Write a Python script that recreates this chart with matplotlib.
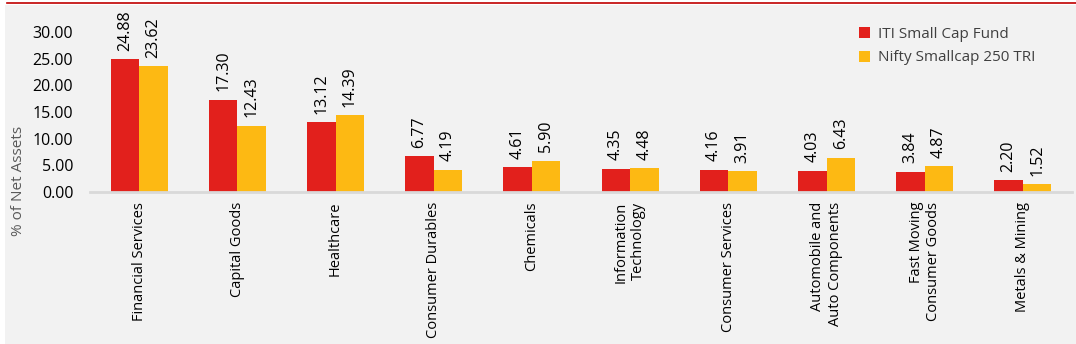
import matplotlib.pyplot as plt
import numpy as np

# Sector allocation data
categories = ['Financial Services', 'Capital Goods', 'Healthcare', 'Consumer Durables',
              'Chemicals', 'Information\nTechnology', 'Consumer Services',
              'Automobile and\nAuto Components', 'Fast Moving\nConsumer Goods',
              'Metals & Mining']
fund = [24.88, 17.30, 13.12, 6.77, 4.61, 4.35, 4.16, 4.03, 3.84, 2.20]
index_tri = [23.62, 12.43, 14.39, 4.19, 5.90, 4.48, 3.91, 6.43, 4.87, 1.52]
series_names = ['ITI Small Cap Fund', 'Nifty Smallcap 250 TRI']
yticks = [0, 5, 10, 15, 20, 25, 30]

red = '#e2201c'
yellow = '#fdb913'
bg = '#f2f2f2'

plt.rcParams['font.family'] = ['Open Sans', 'DejaVu Sans']

fig = plt.figure(figsize=(10.76, 3.44), dpi=100)
fig.patch.set_facecolor('white')

# grey panel + red rule on top
fig.add_artist(plt.Rectangle((5 / 1076, 0), 1, 1 - 5 / 344, transform=fig.transFigure,
                             facecolor=bg, edgecolor='none', zorder=0))
fig.add_artist(plt.Line2D([7 / 1076, 1], [1 - 3 / 344] * 2, transform=fig.transFigure,
                          color='#c00000', lw=1.2))

ax = fig.add_axes([90 / 1076, 1 - 192 / 344, 982 / 1076, 160 / 344])
ax.set_facecolor('none')

x = np.arange(len(categories))
w = 0.29
b1 = ax.bar(x - w / 2, fund, w, color=red, label=series_names[0], zorder=2)
b2 = ax.bar(x + w / 2, index_tri, w, color=yellow, label=series_names[1], zorder=2)

for bars, vals in [(b1, fund), (b2, index_tri)]:
    for b, v in zip(bars, vals):
        ax.annotate(f'{v:.2f}', (b.get_x() + b.get_width() / 2, v),
                    xytext=(0, 6), textcoords='offset points', rotation=90,
                    ha='center', va='bottom', fontsize=11.5, color='black',
                    annotation_clip=False)

ax.set_xlim(-0.5, len(categories) - 0.5)
ax.set_ylim(0, 30)
ax.set_yticks(yticks)
ax.set_yticklabels([f'{t:.2f}' for t in yticks], fontsize=11.5)
ax.set_xticks(x)
ax.set_xticklabels(categories, rotation=90, fontsize=10.5, va='top', ha='center',
                   multialignment='right')
ax.tick_params(axis='y', length=0, pad=12)
ax.tick_params(axis='x', length=0, pad=7)

for s in ['top', 'right', 'left']:
    ax.spines[s].set_visible(False)
ax.spines['bottom'].set_color('#d9d9d9')
ax.spines['bottom'].set_linewidth(2)

fig.text(19 / 1076, 1 - 181 / 344, '% of Net Assets', rotation=90, fontsize=11,
         color='#595959', ha='center', va='center')

leg = fig.legend(handles=[b1, b2], labels=series_names, loc='upper left',
                 bbox_to_anchor=(859 / 1076, 1 - 27 / 344), frameon=False,
                 fontsize=11, handlelength=0.72, handleheight=0.72,
                 handletextpad=0.5, labelspacing=0.55, borderpad=0, borderaxespad=0)
for t in leg.get_texts():
    t.set_color('#404040')

fig.savefig('out.png', dpi=100, facecolor=fig.get_facecolor())
